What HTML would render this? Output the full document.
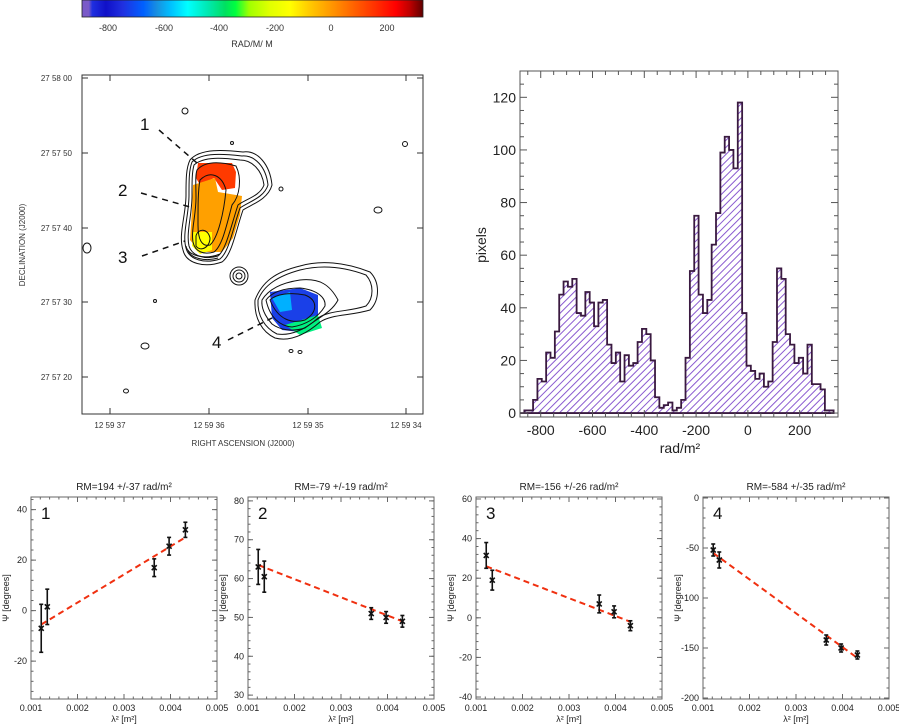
<!DOCTYPE html>
<html><head><meta charset="utf-8">
<style>
body{margin:0;background:#fff;}
svg{display:block;font-family:"Liberation Sans","DejaVu Sans",sans-serif;}
</style></head>
<body>
<svg id="fig" width="899" height="724" viewBox="0 0 899 724" xmlns="http://www.w3.org/2000/svg">
<defs>
<linearGradient id="cbg" x1="0" x2="1" y1="0" y2="0">
<stop offset="0" stop-color="#7a5ac8"/><stop offset="0.02" stop-color="#7a5ac8"/>
<stop offset="0.03" stop-color="#2030e0"/><stop offset="0.07" stop-color="#1010c8"/>
<stop offset="0.12" stop-color="#2030e0"/><stop offset="0.18" stop-color="#0060ff"/>
<stop offset="0.22" stop-color="#1890e0"/><stop offset="0.26" stop-color="#00c0ff"/>
<stop offset="0.31" stop-color="#00ffff"/><stop offset="0.37" stop-color="#00e8b0"/>
<stop offset="0.42" stop-color="#00e060"/><stop offset="0.45" stop-color="#00ff40"/>
<stop offset="0.49" stop-color="#a0ff00"/><stop offset="0.55" stop-color="#e0ff00"/>
<stop offset="0.61" stop-color="#ffff00"/><stop offset="0.66" stop-color="#ffd000"/>
<stop offset="0.74" stop-color="#ff9000"/><stop offset="0.8" stop-color="#ff6000"/>
<stop offset="0.86" stop-color="#ff3000"/><stop offset="0.92" stop-color="#ff0000"/>
<stop offset="0.96" stop-color="#c00000"/><stop offset="1" stop-color="#600000"/>
</linearGradient>
<pattern id="hatch" width="5" height="5" patternUnits="userSpaceOnUse" patternTransform="rotate(-45)">
<line x1="0" y1="2.5" x2="5" y2="2.5" stroke="#8a5ad0" stroke-width="1"/>
</pattern>
</defs>

<g>
<rect x="82" y="0" width="341" height="17" fill="url(#cbg)" stroke="#222" stroke-width="0.8"/>
<g font-size="9" fill="#333" text-anchor="middle">
<text x="108" y="31">-800</text><text x="164" y="31">-600</text><text x="219" y="31">-400</text>
<text x="275" y="31">-200</text><text x="331" y="31">0</text><text x="387" y="31">200</text>
<text x="252" y="47">RAD/M/ M</text>
</g>
</g>

<g>
<rect x="82" y="75" width="341" height="339" fill="#fff" stroke="#333" stroke-width="1"/>
<g stroke="#333" stroke-width="1">
<line x1="110" y1="75" x2="110" y2="81"/><line x1="209" y1="75" x2="209" y2="81"/><line x1="308" y1="75" x2="308" y2="81"/><line x1="406" y1="75" x2="406" y2="81"/>
<line x1="110" y1="414" x2="110" y2="408"/><line x1="209" y1="414" x2="209" y2="408"/><line x1="308" y1="414" x2="308" y2="408"/><line x1="406" y1="414" x2="406" y2="408"/>
<line x1="82" y1="78" x2="88" y2="78"/><line x1="82" y1="153" x2="88" y2="153"/><line x1="82" y1="228" x2="88" y2="228"/><line x1="82" y1="302" x2="88" y2="302"/><line x1="82" y1="377" x2="88" y2="377"/>
<line x1="423" y1="78" x2="417" y2="78"/><line x1="423" y1="153" x2="417" y2="153"/><line x1="423" y1="228" x2="417" y2="228"/><line x1="423" y1="302" x2="417" y2="302"/><line x1="423" y1="377" x2="417" y2="377"/>
</g>
<g font-size="8" fill="#333" text-anchor="end">
<text x="72" y="81">27 58 00</text><text x="72" y="156">27 57 50</text><text x="72" y="231">27 57 40</text><text x="72" y="305">27 57 30</text><text x="72" y="380">27 57 20</text>
</g>
<g font-size="8" fill="#333" text-anchor="middle">
<text x="110" y="428">12 59 37</text><text x="209" y="428">12 59 36</text><text x="308" y="428">12 59 35</text><text x="406" y="428">12 59 34</text>
<text x="243" y="446">RIGHT ASCENSION  (J2000)</text>
<text transform="translate(25,245) rotate(-90)">DECLINATION  (J2000)</text>
</g>
<path d="M198,163 L232,163 L236,172 L235,188 L222,190 L214,178 L200,185 L196,178 Z" fill="#ff3a00"/>
<path d="M193,185 L215,178 L218,192 L242,196 L240,215 L233,238 L222,252 L200,252 L190,240 L192,210 Z" fill="#ffa000"/>
<path d="M193,232 L212,232 L212,250 L200,254 L192,246 Z" fill="#ffff00"/>
<path d="M270,292 L300,288 L318,295 L318,320 L300,332 L282,330 L272,318 Z" fill="#1a40e8"/>
<path d="M272,298 L290,292 L292,310 L280,312 Z" fill="#00b0ff"/>
<path d="M285,325 L318,315 L322,328 L300,335 Z" fill="#00f080"/>
<g fill="none" stroke="#111" stroke-width="1">
<path d="M190,160 C200,148 225,150 243,152 C258,150 270,165 272,185 C268,200 250,205 243,210 C236,230 232,255 222,262 C205,268 186,264 183,250 C178,235 186,215 186,195 C186,180 186,168 190,160 Z"/>
<path d="M192,162 C202,152 225,154 242,156 C255,155 266,167 268,185 C264,198 248,202 240,208 C233,228 229,252 220,259 C205,264 189,260 186,248 C182,234 189,215 189,195 C189,180 189,170 192,162 Z"/>
<path d="M194,165 C204,156 224,158 240,160 C252,160 262,170 264,185 C260,196 246,199 238,205 C231,226 226,250 218,256 C205,260 192,256 189,246 C186,233 192,215 192,196 C192,181 192,172 194,165 Z"/>
<path d="M197,170 C206,160 222,162 236,166 C242,178 240,196 232,205 C226,228 222,246 214,252 C204,255 195,252 193,242 C191,230 196,215 196,198 C196,185 195,176 197,170 Z"/>
<path d="M200,180 C210,170 222,175 226,190 C224,212 218,238 210,245 C202,247 198,240 198,225 C198,205 198,190 200,180 Z"/>
<path d="M196,236 C198,228 208,228 210,238 C210,248 200,252 196,246 Z"/>
<path d="M188,250 C190,258 205,262 218,258"/><path d="M186,246 C188,256 205,260 220,254"/>
<path d="M255,300 C262,282 275,272 300,266 C320,260 345,262 370,272 C380,282 380,300 370,310 C350,316 332,314 320,322 C305,335 290,342 275,338 C262,332 254,318 255,300 Z"/>
<path d="M258,300 C264,285 278,276 300,270 C320,265 342,266 366,275 C374,284 374,298 366,306 C348,312 330,310 318,318 C305,330 290,336 277,334 C265,328 257,316 258,300 Z"/>
<path d="M262,300 C268,290 280,283 300,280 C320,278 330,285 338,300 C332,312 318,318 305,328 C292,332 280,330 272,324 C265,316 261,308 262,300 Z"/>
<path d="M266,300 C272,292 284,288 300,288 C318,290 326,298 325,306 C318,318 305,325 292,327 C280,326 270,318 266,300 Z"/>
<path d="M270,300 C276,294 290,292 305,295 C318,300 318,312 305,320 C292,324 278,320 270,300 Z"/>
<circle cx="239" cy="276" r="9"/><circle cx="239" cy="276" r="6"/><circle cx="239" cy="276" r="3"/>
<ellipse cx="185" cy="111" rx="3" ry="3"/><ellipse cx="232" cy="143" rx="1.5" ry="1.5"/><ellipse cx="405" cy="144" rx="2.5" ry="2.5"/>
<ellipse cx="281" cy="189" rx="2" ry="2"/><ellipse cx="378" cy="210" rx="4" ry="3"/><ellipse cx="87" cy="248" rx="4" ry="5"/>
<ellipse cx="155" cy="301" rx="1.5" ry="1.5"/><ellipse cx="145" cy="346" rx="4" ry="3"/><ellipse cx="126" cy="391" rx="2.5" ry="2"/>
<ellipse cx="291" cy="351" rx="2" ry="1.5"/><ellipse cx="300" cy="352" rx="2" ry="1.5"/>
</g>
<g stroke="#111" stroke-width="1.5" stroke-dasharray="6,5" fill="none">
<line x1="159" y1="130" x2="197" y2="163"/><line x1="141" y1="193" x2="190" y2="207"/>
<line x1="142" y1="256" x2="185" y2="241"/><line x1="228" y1="340" x2="272" y2="318"/>
</g>
<g font-size="17" fill="#111">
<text x="140" y="130">1</text><text x="118" y="196">2</text><text x="118" y="263">3</text><text x="212" y="348">4</text>
</g>
</g>

<g id="hist"></g>
<g id="panels"></g>
</svg>

<script>
// Histogram data
const histStart = -880;
const histBinWidth = 16.82;
const histCounts = [0,1,1,5,13,12,23,21,31,45,50,48,51,38,37,46,42,33,42,43,26,19,23,12,22,18,19,27,32,30,20,6,2,3,4,1,2,5,21,54,75,45,38,43,64,76,99,105,100,93,118,38,18,16,13,15,10,12,27,55,51,30,26,19,21,15,26,11,11,9,1,1];
const histXTicks = [-800,-600,-400,-200,0,200];
const histYTicks = [0,20,40,60,80,100,120];

// Fit panels data
const lambda2 = [0.00122,0.00135,0.00365,0.00397,0.00432];
const panelTitles = ["RM=194 +/-37 rad/m²","RM=-79 +/-19 rad/m²","RM=-156 +/-26 rad/m²","RM=-584 +/-35 rad/m²"];
const panelLabels = ["1","2","3","4"];
const psi1 = [-7,1.5,17,25.5,32];
const err1 = [9.5,7,3.5,3.5,3];
const psi2 = [63,60.5,51,50,49];
const err2 = [4.5,4,1.5,1.5,1.5];
const psi3 = [31.5,19,7,3,-4];
const err3 = [6.5,5,4.5,3,2.5];
const psi4 = [-52,-62,-142,-150,-157];
const err4 = [6,8,5,4,4];
const fitStart = [-5.5,63.5,26,-55];
const fitEnd = [29,49,-2,-160];
const yRanges = [[-35,45],[29,81],[-41,61],[-201,1]];
const yTicks = [[-20,0,20,40],[30,40,50,60,70,80],[-40,-20,0,20,40,60],[-200,-150,-100,-50,0]];
const xTicks = [0.001,0.002,0.003,0.004,0.005];

const NS="http://www.w3.org/2000/svg";
function mk(parent,tag,attrs,text){const e=document.createElementNS(NS,tag);for(const k in attrs)e.setAttribute(k,attrs[k]);if(text!==undefined)e.textContent=text;parent.appendChild(e);return e;}

(function(){
const g=document.getElementById('hist');
const X0=520,X1=838,Y0=71,Y1=417;
const xmin=-880,xmax=348,ymin=-1.5,ymax=130;
const sx=v=>X0+(v-xmin)/(xmax-xmin)*(X1-X0);
const sy=v=>Y1-(v-ymin)/(ymax-ymin)*(Y1-Y0);
let d=`M${sx(histStart)},${sy(0)}`;
histCounts.forEach((c,i)=>{const a=histStart+i*histBinWidth,b=a+histBinWidth;d+=` L${sx(a)},${sy(c)} L${sx(b)},${sy(c)}`;});
d+=` L${sx(histStart+histCounts.length*histBinWidth)},${sy(0)} Z`;
const p=mk(g,'path',{d:d,fill:'url(#hatch)',stroke:'#3a1a40','stroke-width':1.8});


mk(g,'rect',{x:X0,y:Y0,width:X1-X0,height:Y1-Y0,fill:'none',stroke:'#555','stroke-width':1});
for(let v=-850;v<=300;v+=50){const big=v%200===0;const x=sx(v);mk(g,'line',{x1:x,x2:x,y1:Y1,y2:Y1-(big?7:4),stroke:'#555'});mk(g,'line',{x1:x,x2:x,y1:Y0,y2:Y0+(big?7:4),stroke:'#555'});}
for(let v=0;v<=125;v+=5){const big=v%20===0;const y=sy(v);mk(g,'line',{x1:X0,x2:X0+(big?7:4),y1:y,y2:y,stroke:'#555'});mk(g,'line',{x1:X1,x2:X1-(big?7:4),y1:y,y2:y,stroke:'#555'});}
histXTicks.forEach(v=>{mk(g,'text',{x:sx(v),y:435,'font-size':14,'text-anchor':'middle',fill:'#222'},String(v));});
histYTicks.forEach(v=>{mk(g,'text',{x:X0-4,y:sy(v)+5,'font-size':14,'text-anchor':'end',fill:'#222'},String(v));});
const xl=mk(g,'text',{x:680,y:453,'font-size':14,'text-anchor':'middle',fill:'#222'},'rad/m²');


const yl=mk(g,'text',{transform:'translate(486,245) rotate(-90)','font-size':14,'text-anchor':'middle',fill:'#222'},'pixels');


})();

(function(){
const g=document.getElementById('panels');
const lefts=[31,248,476,703],W=186,Y0=497,Y1=699;
const psis=[psi1,psi2,psi3,psi4],errs=[err1,err2,err3,err4];
lefts.forEach((L,k)=>{
 const pg=mk(g,'g',{});
 
 
 const [ymin,ymax]=yRanges[k];
 const sx=v=>L+(v-0.001)/0.004*W;
 const sy=v=>Y1-(v-ymin)/(ymax-ymin)*(Y1-Y0);
 mk(pg,'rect',{x:L,y:Y0,width:W,height:Y1-Y0,fill:'none',stroke:'#666','stroke-width':1});
 for(let i=0;i<=20;i++){const v=0.001+i*0.0002;const big=i%5===0;const x=sx(v);mk(pg,'line',{x1:x,x2:x,y1:Y1,y2:Y1-(big?5:2.5),stroke:'#666'});mk(pg,'line',{x1:x,x2:x,y1:Y0,y2:Y0+(big?5:2.5),stroke:'#666'});}
 const step=(yTicks[k][1]-yTicks[k][0])/5;
 for(let v=yTicks[k][0]-step*5;v<=ymax;v+=step){if(v<ymin)continue;const y=sy(v);mk(pg,'line',{x1:L,x2:L+2.5,y1:y,y2:y,stroke:'#666'});mk(pg,'line',{x1:L+W,x2:L+W-2.5,y1:y,y2:y,stroke:'#666'});}
 yTicks[k].forEach(v=>{const y=sy(v);mk(pg,'line',{x1:L,x2:L+5,y1:y,y2:y,stroke:'#666'});mk(pg,'line',{x1:L+W,x2:L+W-5,y1:y,y2:y,stroke:'#666'});mk(pg,'text',{x:L-4,y:y+3,'font-size':9,'text-anchor':'end',fill:'#222'},String(v));});
 xTicks.forEach(v=>{mk(pg,'text',{x:sx(v),y:Y1+12,'font-size':9,'text-anchor':'middle',fill:'#222'},v.toFixed(3));});
 mk(pg,'text',{x:L+W/2,y:Y1+23,'font-size':9,'text-anchor':'middle',fill:'#222'},'λ² [m²]');
 mk(pg,'text',{transform:`translate(${L-22},${(Y0+Y1)/2}) rotate(-90)`,'font-size':9,'text-anchor':'middle',fill:'#222'},'Ψ [degrees]');
 const t=mk(pg,'text',{x:L+W/2,y:Y0-7,'font-size':10,'text-anchor':'middle',fill:'#222'},panelTitles[k]);
 
 
 mk(pg,'text',{x:L+10,y:Y0+22,'font-size':17,fill:'#111'},panelLabels[k]);
 const fl=mk(pg,'line',{x1:sx(lambda2[0]),y1:sy(fitStart[k]),x2:sx(lambda2[4]),y2:sy(fitEnd[k]),stroke:'#f03010','stroke-width':2,'stroke-dasharray':'6,4'});
 
 
 lambda2.forEach((x,i)=>{
  const px=sx(x),py=sy(psis[k][i]),e=errs[k][i];
  const eg=mk(pg,'g',{stroke:'#111','stroke-width':1.6});
  
  
  mk(eg,'line',{x1:px,x2:px,y1:sy(psis[k][i]+e),y2:sy(psis[k][i]-e)});
  mk(eg,'line',{x1:px-2,x2:px+2,y1:sy(psis[k][i]+e),y2:sy(psis[k][i]+e)});
  mk(eg,'line',{x1:px-2,x2:px+2,y1:sy(psis[k][i]-e),y2:sy(psis[k][i]-e)});
  mk(eg,'line',{x1:px-2.5,x2:px+2.5,y1:py-2.5,y2:py+2.5});
  mk(eg,'line',{x1:px-2.5,x2:px+2.5,y1:py+2.5,y2:py-2.5});
 });
});
})();
</script>
</body></html>
